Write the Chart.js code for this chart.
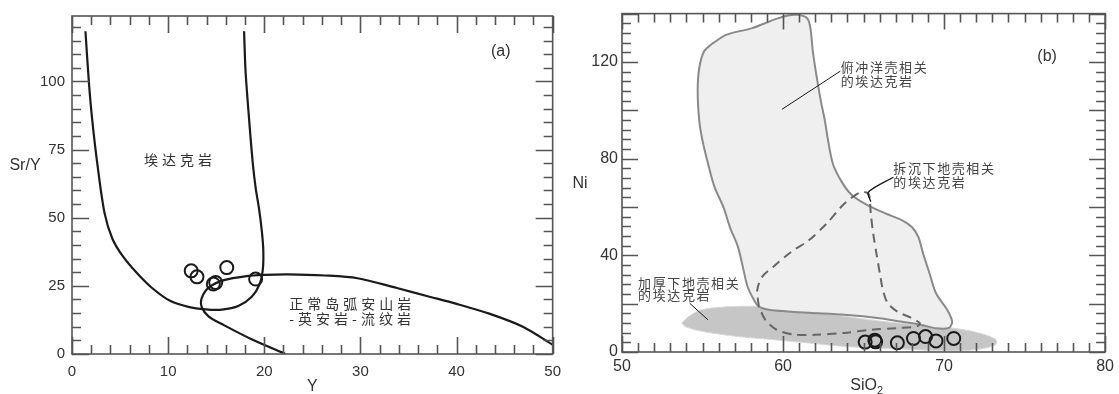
<!DOCTYPE html>
<html>
<head>
<meta charset="utf-8">
<script src="https://cdn.jsdelivr.net/npm/chart.js@4.4.1/dist/chart.umd.min.js"></script>
<style>
  body { margin: 0; background: #fff; }
  #wrap { position: relative; width: 1119px; height: 394px; }
  canvas { position: absolute; top: 0; }
</style>
</head>
<body>
<div id="wrap">
  <canvas id="chartA" width="570" height="394" style="left:0"></canvas>
  <canvas id="chartB" width="549" height="394" style="left:570px"></canvas>
</div>
<script>
// ---- panel (a): Sr/Y vs Y ----
const adakiteField = [
  [1.4, 118.4], [1.75, 100], [2.1, 86], [2.7, 68], [3.4, 51.5], [4.2, 42.3], [5.3, 35.8],
  [6.8, 29.5], [8.3, 24.3], [10.2, 19.5], [12.1, 17.3], [13.9, 16.4], [15.6, 16.3],
  [17.3, 17.6], [18.7, 21.0], [19.5, 25.5], [19.85, 31], [19.9, 38], [19.75, 45],
  [19.45, 53.4], [19.1, 61], [18.8, 70.2], [18.4, 87.1], [18.05, 104], [17.9, 118.4]
];
const arcField = [
  [22.2, 0], [18.8, 5.2], [15.8, 10.6], [14.2, 13.8], [13.5, 17.2], [13.5, 20.6],
  [14.3, 24.6], [15.9, 27.2], [18, 28.5], [20, 29.0], [22.5, 29.2], [26.3, 28.8],
  [29.7, 27.8], [33.8, 24.2], [37, 21.2], [40, 18.4], [43.4, 14.8], [46.9, 10], [50, 3.4]
];
const sampleY = [12.4, 13.0, 16.1, 14.7, 14.95, 19.1];
const sampleSrY = [30.5, 28.3, 31.7, 25.7, 26.2, 27.5];
const aXTicks = [0, 10, 20, 30, 40, 50];
const aYTicks = [0, 25, 50, 75, 100];
const aNoteText = ['埃达克岩', '正常岛弧安山岩', '-英安岩-流纹岩'];

// ---- panel (b): Ni vs SiO2 ----
const slabField = [
  [55.65, 127.8], [56.5, 131.3], [58.1, 134], [59.4, 137.4], [60.3, 139.2], [60.9, 139.5],
  [61.5, 138.1], [61.7, 134], [61.85, 124.4], [62.1, 113.4], [62.35, 103.8], [62.6, 95.6],
  [62.8, 87.4], [63.1, 77.8], [63.6, 70.9], [64.2, 65.4], [65.1, 61.3], [66.4, 57.2],
  [67.4, 54.5], [68, 51.7], [68.4, 47.6], [68.7, 40.7], [69.1, 32.5], [69.5, 24.3],
  [70.2, 17.4], [70.5, 12.6], [70.3, 10], [69.5, 9.8], [68.6, 11.2], [67.3, 12.6],
  [66, 14], [63.8, 15.4], [61.6, 16.2], [60.3, 16.8], [59.2, 17.4], [58.5, 18.8],
  [58.2, 21.5], [57.8, 27], [57.5, 35.3], [57.2, 43.5], [56.7, 51.7], [56.3, 59.9],
  [55.75, 68.2], [55.4, 76.4], [55, 87.4], [54.8, 95.6], [54.7, 108], [54.8, 117.6],
  [55.1, 124.4], [55.65, 127.8]
];
const delamField = [
  [58.5, 18.8], [58.4, 25.6], [58.7, 31.1], [59.4, 35.3], [60.5, 41.4], [61.6, 46.2],
  [62.7, 53.1], [63.8, 61.3], [64.8, 66.1], [65.3, 65.5], [65.4, 62], [65.45, 57.2],
  [65.6, 49], [65.8, 40.7], [66.05, 31.1], [66.2, 25.7], [66.5, 20.2], [67.1, 16.7],
  [68, 14], [68.5, 11.9], [68.3, 10.6], [67.1, 9.9], [65.5, 9.2], [63.8, 7.9],
  [62, 7.1], [60.7, 7.2], [59.6, 9.2], [58.9, 13.3], [58.5, 18.8]
];
const thickField = [
  [53.7, 11.9], [54.2, 15], [55, 17.6], [57.2, 18.9], [59.4, 18.6], [61.6, 16.9],
  [63.8, 14.8], [66, 12.8], [68.2, 11.3], [70.4, 10], [72.1, 8], [73.2, 5.3],
  [73.2, 3], [72.1, 1.1], [70.4, 0.4], [68.2, 1], [66, 1.6], [63.8, 2.3], [61.6, 3.7],
  [59.4, 5.1], [57.2, 6.4], [55, 8.5], [54, 10.3], [53.7, 11.9]
];
const slabLeader = [[59.93, 100.4], [63.56, 116.2]];
const delamLeader = [[66.86, 72.3], [65.3, 66.1], [65.45, 62.2]];
const thickLeader = [[54.2, 20.2], [55.34, 13.3]];
const sampleSiO2 = [65.1, 65.7, 65.75, 67.1, 68.1, 68.85, 69.5, 70.6];
const sampleNi = [4.1, 4.9, 4.2, 3.8, 5.6, 6.4, 4.6, 5.6];
const bXTicks = [50, 60, 70, 80];
const bYTicks = [0, 40, 80, 120];
const bNoteText = ['俯冲洋壳相关', '的埃达克岩', '拆沉下地壳相关', '的埃达克岩', '加厚下地壳相关', '的埃达克岩'];

const LATIN = '"Liberation Sans", Arial, sans-serif';
const CJK = '"Noto Sans CJK SC", sans-serif';

const pts = arr => arr.map(([x, y]) => ({ x, y }));
const zip = (xs, ys) => xs.map((x, i) => ({ x, y: ys[i] }));

// box, inward ticks on all four sides, titles and notes
const framePlugin = {
  id: 'frame',
  afterDatasetsDraw(chart, args, o) {
    const { ctx, chartArea: a, scales: { x, y } } = chart;
    const isMajor = (v, step) => Math.abs(v / step - Math.round(v / step)) < 1e-6;
    ctx.save();
    ctx.strokeStyle = '#555';
    ctx.lineWidth = 1.6;
    ctx.strokeRect(a.left, a.top, a.right - a.left, a.bottom - a.top);
    ctx.beginPath();
    const nx = Math.floor((x.max - x.min) / o.xMinor + 1e-6);
    for (let i = 0; i <= nx; i++) {
      const v = x.min + i * o.xMinor;
      const px = Math.round(x.getPixelForValue(v)) + 0.5;
      const len = isMajor(v, o.xMajor) ? o.majorLen : o.minorLen;
      ctx.moveTo(px, a.bottom); ctx.lineTo(px, a.bottom - len);
      ctx.moveTo(px, a.top); ctx.lineTo(px, a.top + len);
    }
    const ny = Math.floor((y.max - y.min) / o.yMinor + 1e-6);
    for (let i = 0; i <= ny; i++) {
      const v = y.min + i * o.yMinor;
      const py = Math.round(y.getPixelForValue(v)) + 0.5;
      const len = isMajor(v, o.yMajor) ? o.majorLen : o.minorLen;
      ctx.moveTo(a.left, py); ctx.lineTo(a.left + len, py);
      ctx.moveTo(a.right, py); ctx.lineTo(a.right - len, py);
    }
    ctx.stroke();

    // axis titles and panel tag
    ctx.fillStyle = '#333';
    ctx.textBaseline = 'middle';
    ctx.textAlign = 'center';
    ctx.font = o.titleFont;
    ctx.fillText(o.xTitle, (a.left + a.right) / 2, a.bottom + o.xTitleDy);
    if (o.xTitleSub) {
      const w = ctx.measureText(o.xTitle).width;
      ctx.font = o.subFont;
      ctx.textAlign = 'left';
      ctx.fillText(o.xTitleSub, (a.left + a.right) / 2 + w / 2, a.bottom + o.xTitleDy + 5);
      ctx.font = o.titleFont;
      ctx.textAlign = 'center';
    }
    ctx.fillText(o.yTitle, a.left + o.yTitleDx, y.getPixelForValue(o.yTitleAt));
    ctx.fillText(o.tag, x.getPixelForValue(o.tagAt[0]), y.getPixelForValue(o.tagAt[1]));

    // field notes, drawn char by char to get the wide spacing
    ctx.textAlign = 'left';
    ctx.fillStyle = o.noteColor;
    ctx.font = o.noteFont;
    o.notes.forEach(n => {
      let cx = x.getPixelForValue(n.x);
      const cy = y.getPixelForValue(n.y);
      for (const ch of n.text) {
        ctx.fillText(ch, cx, cy);
        cx += ctx.measureText(ch).width + o.noteGap;
      }
    });
    ctx.restore();
  }
};

const curve = (data, color, width, extra) => Object.assign({
  data: pts(data), showLine: true, pointRadius: 0, borderColor: color,
  borderWidth: width, tension: 0.3, fill: false
}, extra || {});

const circles = (xs, ys) => ({
  data: zip(xs, ys), pointRadius: 6.5, pointBorderWidth: 2, borderColor: '#1a1a1a',
  pointBorderColor: '#1a1a1a', backgroundColor: 'rgba(0,0,0,0)', pointBackgroundColor: 'rgba(0,0,0,0)',
  showLine: false, order: 0
});

const axisOpts = (min, max, ticks, fontSize, padding, fit) => ({
  type: 'linear', min, max,
  grid: { display: false, drawTicks: false, tickLength: 0 },
  border: { display: false },
  ticks: { color: '#333', padding, font: { family: LATIN, size: fontSize } },
  afterBuildTicks: s => { s.ticks = ticks.map(v => ({ value: v })); },
  afterFit: fit
});

new Chart(document.getElementById('chartA'), {
  type: 'scatter',
  data: {
    datasets: [
      circles(sampleY, sampleSrY),
      curve(adakiteField, '#1a1a1a', 2.2, { order: 1 }),
      curve(arcField, '#1a1a1a', 2.2, { order: 2 })
    ]
  },
  options: {
    responsive: false, animation: false, devicePixelRatio: 1, events: [],
    layout: { padding: { left: 0, right: 13, top: 12, bottom: 0 } },
    plugins: {
      legend: { display: false }, tooltip: { enabled: false },
      frame: {
        xMinor: 2, xMajor: 10, yMinor: 5, yMajor: 25, majorLen: 17, minorLen: 9,
        titleFont: '16px ' + LATIN, xTitle: 'Y', xTitleDy: 33,
        yTitle: 'Sr/Y', yTitleDx: -47, yTitleAt: 69.2,
        tag: '(a)', tagAt: [44.6, 111],
        noteFont: '14px ' + CJK, noteColor: '#333', noteGap: 4,
        notes: [
          { text: aNoteText[0], x: 7.5, y: 71.3 },
          { text: aNoteText[1], x: 22.6, y: 18.5 },
          { text: aNoteText[2], x: 22.6, y: 12.8 }
        ]
      }
    },
    scales: {
      x: axisOpts(0, 50, aXTicks, 15, 9, s => { s.height = 40; }),
      y: axisOpts(0, 124, aYTicks, 15, 7, s => { s.width = 72; })
    }
  },
  plugins: [framePlugin]
});

new Chart(document.getElementById('chartB'), {
  type: 'scatter',
  data: {
    datasets: [
      circles(sampleSiO2, sampleNi),
      curve(slabLeader, '#1a1a1a', 1, { order: 1, tension: 0 }),
      curve(delamLeader, '#1a1a1a', 1.4, { order: 1 }),
      curve(thickLeader, '#1a1a1a', 1, { order: 1, tension: 0 }),
      curve(delamField, '#666', 2, { order: 2, borderDash: [9, 6] }),
      curve(slabField, '#8a8a8a', 2, { order: 3, fill: 'shape', backgroundColor: '#efefef' }),
      curve(thickField, '#dadada', 1, { order: 4, fill: 'shape', backgroundColor: '#c6c6c6' })
    ]
  },
  options: {
    responsive: false, animation: false, devicePixelRatio: 1, events: [],
    layout: { padding: { left: 0, right: 11, top: 12, bottom: 0 } },
    plugins: {
      legend: { display: false }, tooltip: { enabled: false },
      frame: {
        xMinor: 1, xMajor: 10, yMinor: 4, yMajor: 20, majorLen: 16, minorLen: 9,
        titleFont: '16px ' + LATIN, subFont: '11px ' + LATIN,
        xTitle: 'SiO', xTitleSub: '2', xTitleDy: 34,
        yTitle: 'Ni', yTitleDx: -42, yTitleAt: 69.8,
        tag: '(b)', tagAt: [76.4, 122.2],
        noteFont: '13px ' + CJK, noteColor: '#444', noteGap: 1.6,
        notes: [
          { text: bNoteText[0], x: 63.58, y: 117.8 },
          { text: bNoteText[1], x: 63.58, y: 112.1 },
          { text: bNoteText[2], x: 66.85, y: 76.3 },
          { text: bNoteText[3], x: 66.85, y: 70.1 },
          { text: bNoteText[4], x: 51.0, y: 28.5 },
          { text: bNoteText[5], x: 51.0, y: 23.6 }
        ]
      }
    },
    scales: {
      x: axisOpts(50, 80, bXTicks, 16, 5, s => { s.height = 42; }),
      y: axisOpts(0, 140, bYTicks, 16, 4, s => { s.width = 52; })
    }
  },
  plugins: [framePlugin]
});
</script>
</body>
</html>
